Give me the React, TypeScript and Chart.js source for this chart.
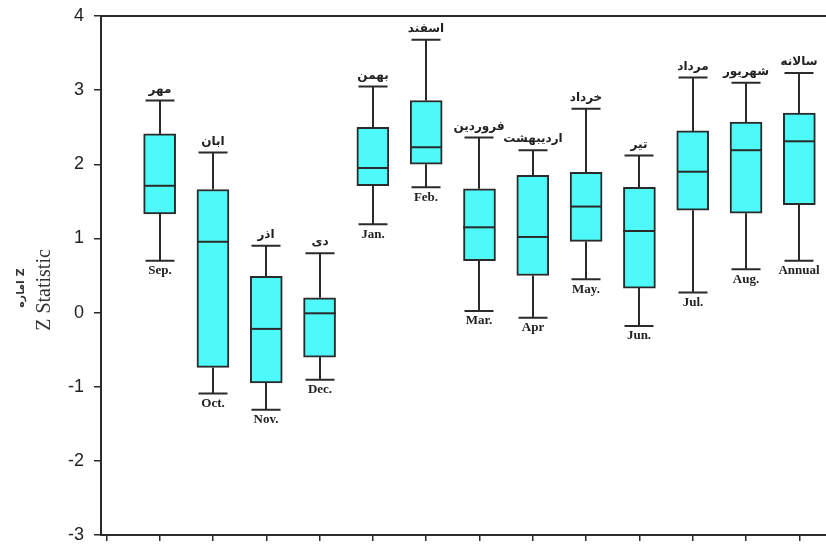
import React, { useEffect, useRef } from "react";
import { Chart, registerables } from "chart.js";

Chart.register(...registerables);

const categoriesEn = ["Sep.", "Oct.", "Nov.", "Dec.", "Jan.", "Feb.", "Mar.", "Apr", "May.", "Jun.", "Jul.", "Aug.", "Annual"];
const categoriesFa = ["مهر", "ابان", "اذر", "دی", "بهمن", "اسفند", "فروردین", "اردیبهشت", "خرداد", "تیر", "مرداد", "شهریور", "سالانه"];
const whiskerLow = [0.7, -1.09, -1.31, -0.905, 1.19, 1.69, 0.02, -0.07, 0.45, -0.18, 0.27, 0.585, 0.7];
const q1 = [1.33, -0.74, -0.95, -0.6, 1.71, 2.0, 0.7, 0.5, 0.96, 0.33, 1.38, 1.34, 1.455];
const median = [1.71, 0.955, -0.22, -0.01, 1.95, 2.23, 1.15, 1.02, 1.43, 1.1, 1.9, 2.19, 2.31];
const q3 = [2.41, 1.66, 0.49, 0.2, 2.5, 2.86, 1.67, 1.85, 1.89, 1.69, 2.45, 2.57, 2.69];
const whiskerHigh = [2.86, 2.16, 0.9, 0.8, 3.05, 3.68, 2.36, 2.19, 2.75, 2.12, 3.17, 3.1, 3.23];
const yTicks = [-3, -2, -1, 0, 1, 2, 3, 4];
const xTickValues = [0, 1, 2, 3, 4, 5, 6, 7, 8, 9, 10, 11, 12, 13];

const LINE = "#2a2a2a";

const boxPlugin = {
  id: "boxExtras",
  beforeDatasetsDraw(chart: any) {
    const { ctx, scales } = chart;
    const x = scales.x, y = scales.y;
    ctx.save();
    ctx.strokeStyle = LINE;
    ctx.lineWidth = 2;
    const capHalf = 14.5;
    categoriesEn.forEach((_, i) => {
      const px = Math.round(x.getPixelForValue(i + 1));
      const yl = y.getPixelForValue(whiskerLow[i]);
      const yh = y.getPixelForValue(whiskerHigh[i]);
      const y1 = y.getPixelForValue(q1[i]);
      const y3 = y.getPixelForValue(q3[i]);
      ctx.beginPath();
      ctx.moveTo(px, yh);
      ctx.lineTo(px, y3);
      ctx.moveTo(px, y1);
      ctx.lineTo(px, yl);
      ctx.moveTo(px - capHalf, yh);
      ctx.lineTo(px + capHalf, yh);
      ctx.moveTo(px - capHalf, yl);
      ctx.lineTo(px + capHalf, yl);
      ctx.stroke();
    });
    ctx.restore();
  },
  afterDatasetsDraw(chart: any) {
    const { ctx, scales, chartArea } = chart;
    const x = scales.x, y = scales.y;
    ctx.save();
    ctx.strokeStyle = LINE;
    ctx.lineWidth = 2;
    categoriesEn.forEach((_, i) => {
      const px = Math.round(x.getPixelForValue(i + 1));
      const ym = y.getPixelForValue(median[i]);
      ctx.beginPath();
      ctx.moveTo(px - 16, ym);
      ctx.lineTo(px + 16, ym);
      ctx.stroke();
      ctx.fillStyle = "#222";
      ctx.textAlign = "center";
      ctx.textBaseline = "middle";
      ctx.font = "bold 12px 'DejaVu Sans'";
      ctx.fillText(categoriesFa[i], px, y.getPixelForValue(whiskerHigh[i]) - 11);
      ctx.font = "bold 13px 'Liberation Serif'";
      ctx.fillText(categoriesEn[i], px, y.getPixelForValue(whiskerLow[i]) + 10);
    });
    ctx.beginPath();
    ctx.moveTo(chartArea.left, chartArea.top);
    ctx.lineTo(chart.width, chartArea.top);
    ctx.stroke();
    ctx.save();
    ctx.translate(45, 290);
    ctx.rotate(-Math.PI / 2);
    ctx.font = "20px 'Liberation Serif'";
    ctx.fillStyle = "#333";
    ctx.textAlign = "center";
    ctx.textBaseline = "middle";
    ctx.fillText("Z Statistic", 0, 0);
    ctx.restore();
    ctx.save();
    ctx.translate(21, 288);
    ctx.rotate(-Math.PI / 2);
    ctx.font = "bold 11px 'DejaVu Sans'";
    ctx.fillStyle = "#333";
    ctx.textAlign = "center";
    ctx.textBaseline = "middle";
    ctx.fillText("اماره Z", 0, 0);
    ctx.restore();
    ctx.restore();
  },
};

export default function App() {
  const ref = useRef<HTMLCanvasElement | null>(null);
  useEffect(() => {
    if (!ref.current) return;
    const chart = new Chart(ref.current, {
      type: "bar",
      data: {
        datasets: [
          {
            data: categoriesEn.map((_, i) => ({ x: i + 1, y: [q1[i], q3[i]] })) as any,
            backgroundColor: "#4ef9f9",
            borderColor: LINE,
            borderWidth: 2,
            borderSkipped: false,
            barThickness: 32,
          },
        ],
      },
      options: {
        responsive: false,
        animation: false,
        layout: { padding: { top: 16, right: 0, left: 0, bottom: 0 } },
        plugins: { legend: { display: false }, tooltip: { enabled: false }, title: { display: false } },
        scales: {
          x: {
            type: "linear",
            min: -0.1,
            max: 13.5,
            offset: false,
            afterBuildTicks: (s: any) => {
              s.ticks = xTickValues.map((v) => ({ value: v }));
            },
            afterFit: (s: any) => {
              s.height = 10;
              s.paddingLeft = 0;
              s.paddingRight = 0;
            },
            ticks: { display: false },
            grid: { offset: false, drawOnChartArea: false, drawTicks: true, tickLength: 6, color: LINE, lineWidth: 1.5 },
            border: { display: true, color: LINE, width: 2 },
          },
          y: {
            min: -3,
            max: 4,
            afterBuildTicks: (s: any) => {
              s.ticks = yTicks.map((v) => ({ value: v }));
            },
            afterFit: (s: any) => {
              s.width = 101;
              s.paddingTop = 0;
              s.paddingBottom = 0;
            },
            ticks: {
              color: "#222",
              font: { family: "'Liberation Sans', Arial, sans-serif", size: 18 },
              padding: 10,
            },
            grid: { drawOnChartArea: false, drawTicks: true, tickLength: 7, color: LINE, lineWidth: 1.5 },
            border: { display: true, color: LINE, width: 2 },
          },
        },
      },
      plugins: [boxPlugin],
    });
    return () => chart.destroy();
  }, []);
  return (
    <div style={{ position: "fixed", left: 0, top: 0, width: 826, height: 545, background: "#fff" }}>
      <canvas ref={ref} width={826} height={545} style={{ display: "block" }} />
    </div>
  );
}
